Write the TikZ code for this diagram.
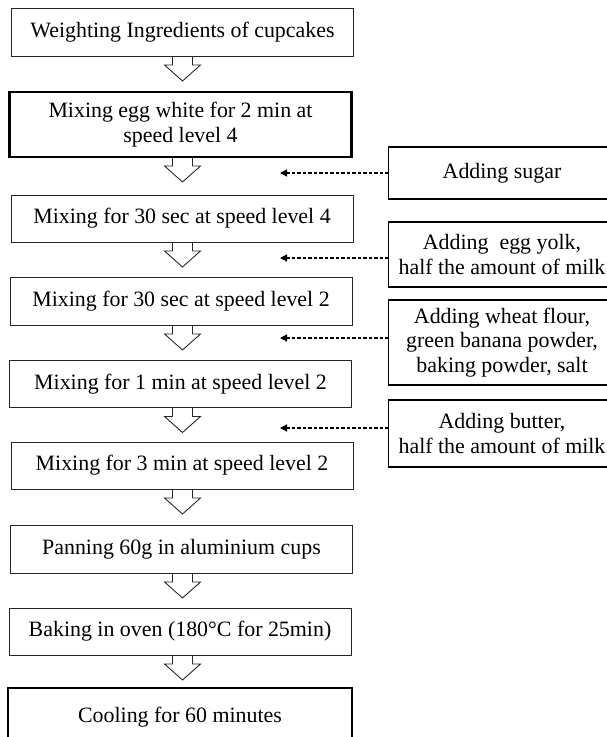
\documentclass[tikz,border=0pt]{standalone}
\usepackage{fontspec}
\setmainfont{Liberation Serif}
\usetikzlibrary{arrows.meta}
\begin{document}
\begin{tikzpicture}[x=1pt,y=-1pt,
  every node/.style={font=\fontsize{21.9}{24.5}\selectfont, align=center, inner sep=0pt, outer sep=0pt, text=black},
  stepbox/.style={draw=black!85, line width=1pt, minimum width=342pt},
  thickbox/.style={stepbox, draw=black, line width=2.2pt},
  addbox/.style={draw=black, line width=1.4pt, minimum width=227pt},
  dasharrow/.style={draw=black, dash pattern=on 3.5pt off 2pt, line width=1.1pt, -{Triangle[length=7pt,width=7pt]}},
  flowarrow/.pic={\draw[line width=0.9pt, draw=black!85, line join=miter] (-10,0) -- (-10,9) -- (-18,9) -- (0,25) -- (18,9) -- (10,9) -- (10,0);}
]
\clip (0,0) rectangle (607,737);
\coordinate (axis) at (182.5,0);

% main steps
\node[stepbox, minimum height=48pt] (b1) at (182.5,32) {Weighting Ingredients of cupcakes};
\node[thickbox, minimum height=65pt] (b2) at (180.5,124.5) {Mixing egg white for 2 min at\\speed level 4};
\node[stepbox, minimum height=47pt] (b3) at (182,218.5) {Mixing for 30 sec at speed level 4};
\node[stepbox, minimum height=48pt] (b4) at (181,301) {Mixing for 30 sec at speed level 2};
\node[stepbox, minimum height=47pt] (b5) at (180.5,384) {Mixing for 1 min at speed level 2};
\node[stepbox, minimum height=47pt] (b6) at (182,465.5) {Mixing for 3 min at speed level 2};
\node[stepbox, minimum height=48pt] (b7) at (181.5,549) {Panning 60g in aluminium cups};
\node[stepbox, minimum height=47pt] (b8) at (180,631.5) {Baking in oven (180\textdegree C for 25min)};
\node[thickbox, minimum height=58pt, minimum width=344pt] (b9) at (180,717) {Cooling for 60 minutes};

% hollow arrows
\foreach \n in {b1,b2,b3,b4,b5,b6,b7,b8}{
  \pic at (\n.south -| axis) {flowarrow};
}

% added ingredients
\node[addbox, minimum height=52pt] (a1) at (502,173) {Adding sugar};
\node[addbox, minimum height=65pt] (a2) at (502,254.5) {Adding~ egg yolk,\\half the amount of milk};
\node[addbox, minimum height=85pt] (a3) at (502,342.5) {Adding wheat flour,\\green banana powder,\\baking powder, salt};
\node[addbox, minimum height=67pt] (a4) at (502,433.5) {Adding butter,\\half the amount of milk};

\coordinate (t1) at (280,173);
\coordinate (t2) at (280,258);
\coordinate (t3) at (280,338);
\coordinate (t4) at (280,428);
\draw[dasharrow] (t1 -| a1.west) -- (t1);
\draw[dasharrow] (t2 -| a2.west) -- (t2);
\draw[dasharrow] (t3 -| a3.west) -- (t3);
\draw[dasharrow] (t4 -| a4.west) -- (t4);
\end{tikzpicture}
\end{document}
